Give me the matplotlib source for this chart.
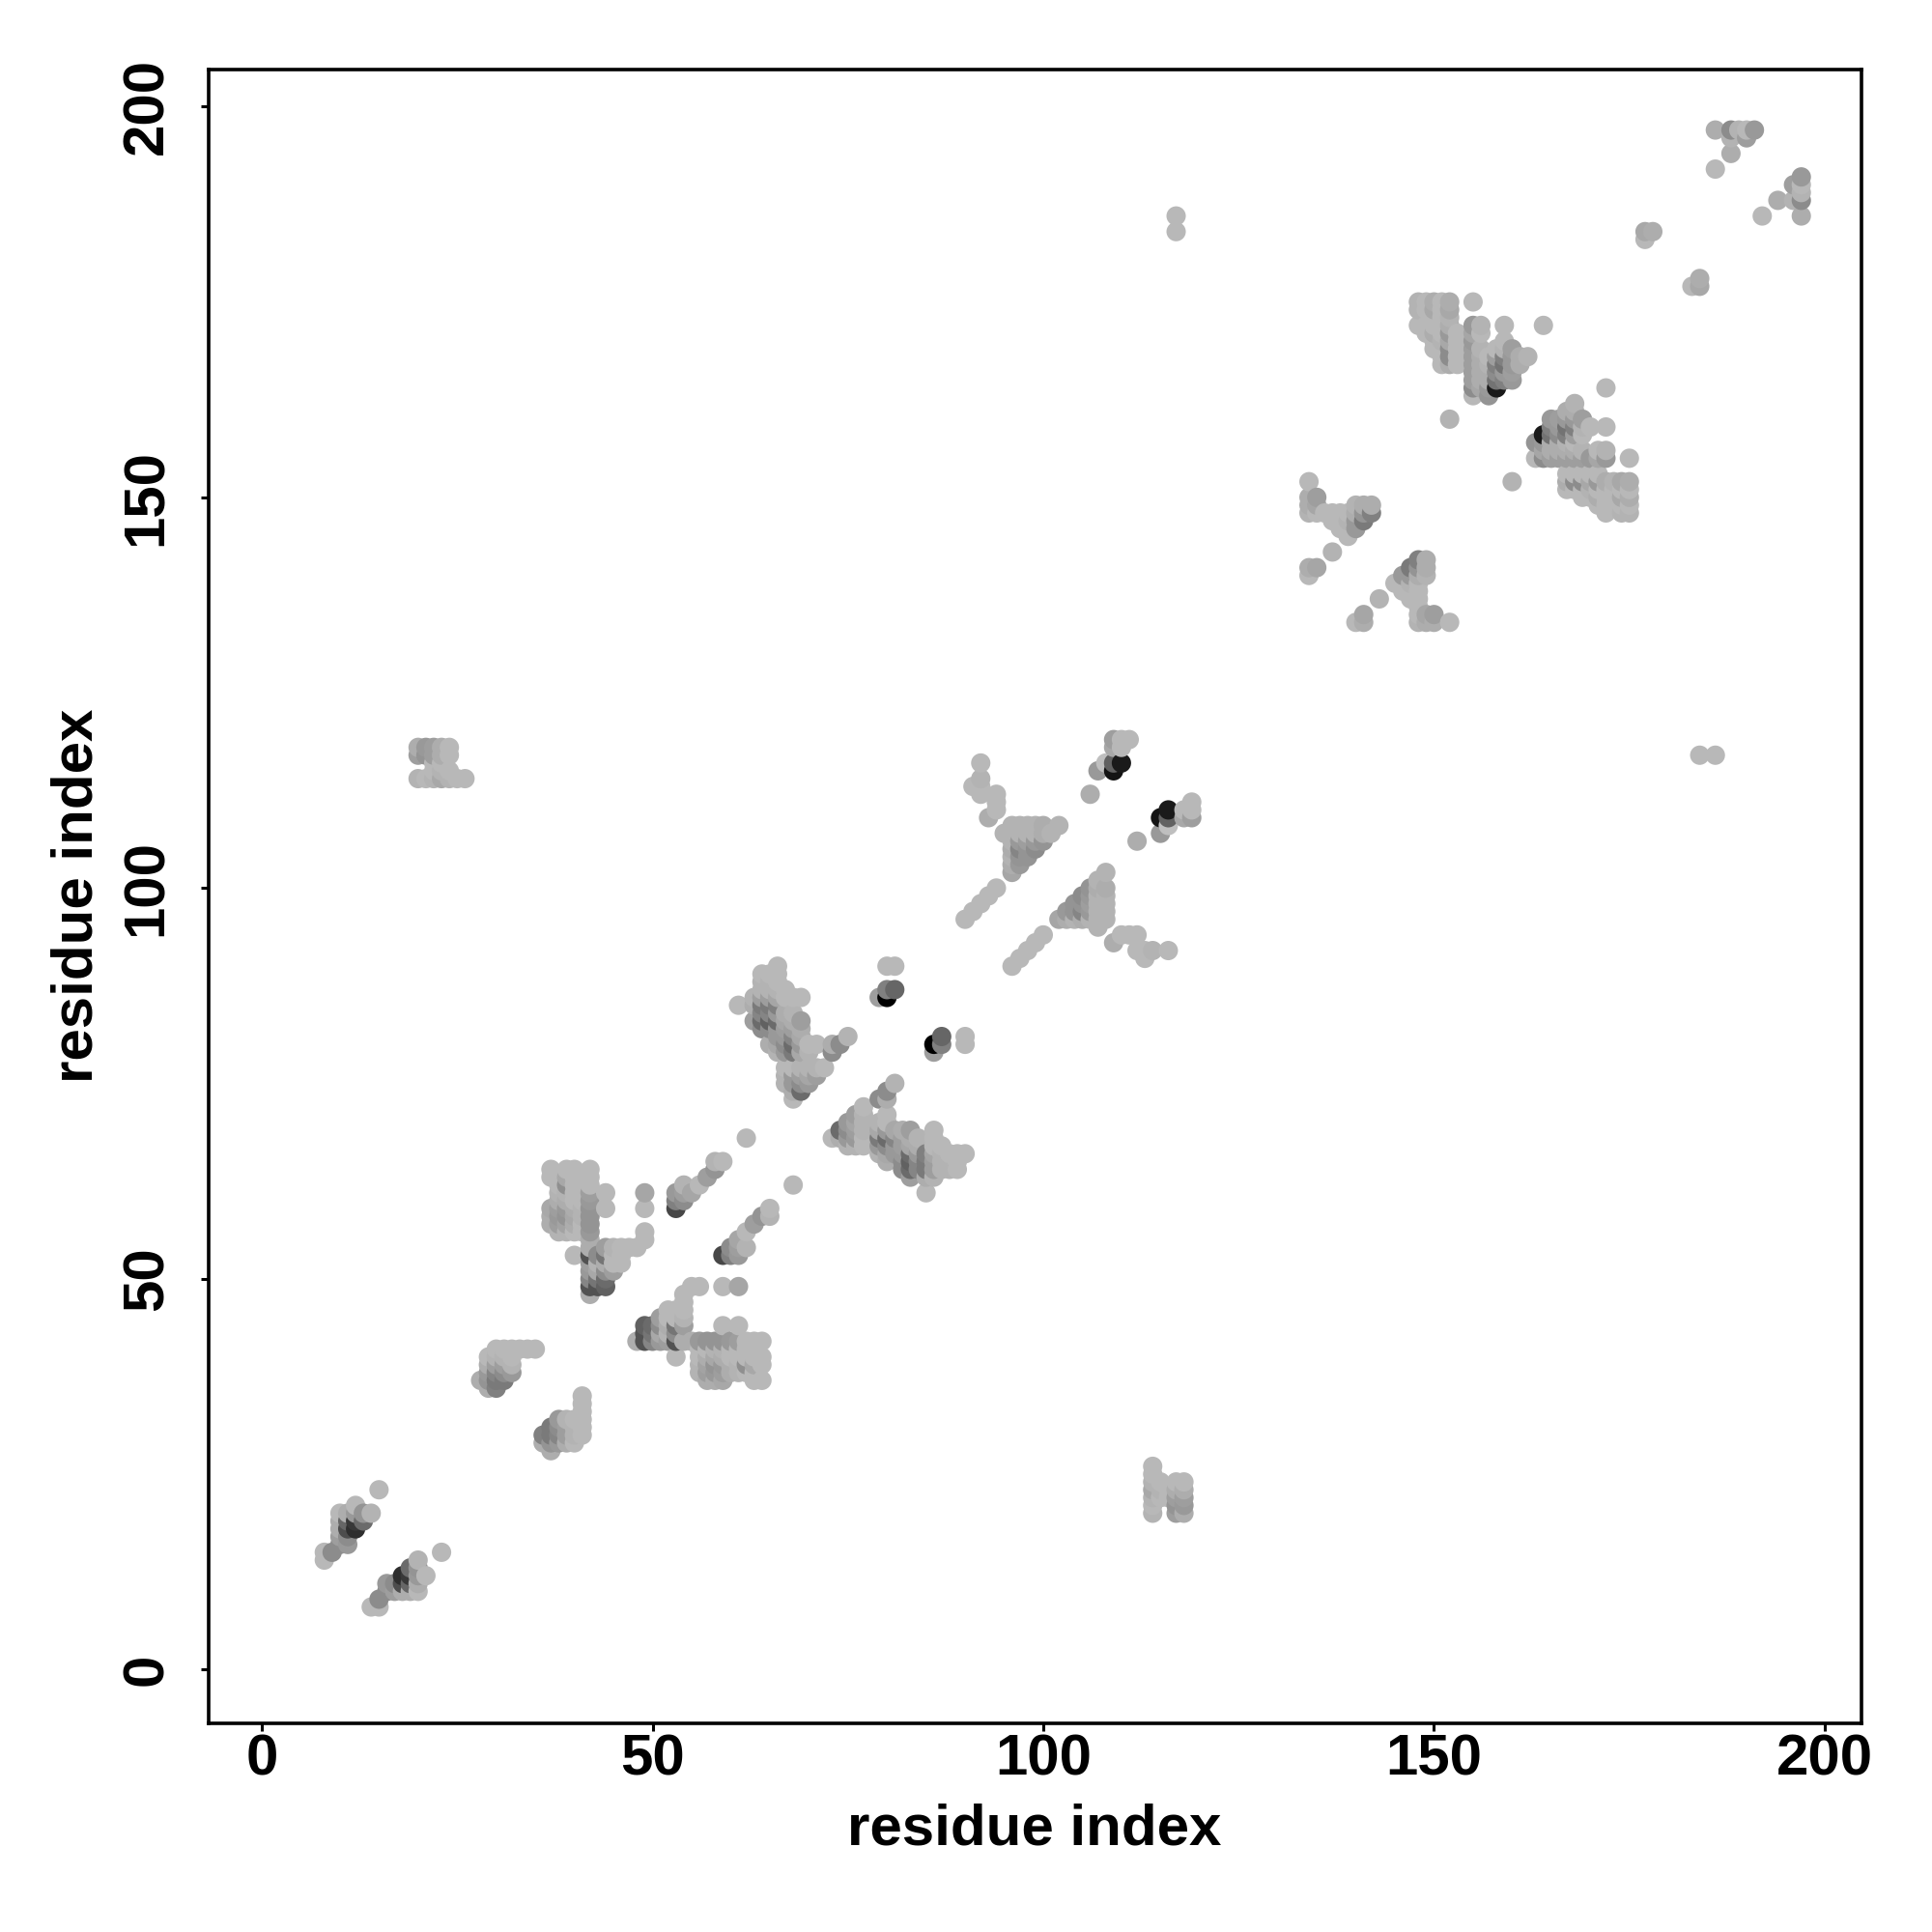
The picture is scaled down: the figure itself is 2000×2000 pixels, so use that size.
import numpy as np
import matplotlib
matplotlib.use("Agg")
import matplotlib.pyplot as plt

plt.rcParams['font.family'] = ['Liberation Sans', 'DejaVu Sans']

# contact rows: (residue i, partner residues j, grey level in percent)
# only i < j is listed, the map is symmetric
block_a = [
    (8, [14, 15], [72, 72]),
    (9, [15], [55]),
    (10, [16, 17, 18, 19, 20], [55, 62, 68, 68, 72]),
    (11, [16, 17, 18, 19, 20], [60, 55, 30, 40, 68]),
    (12, [18, 19, 20, 21], [18, 22, 60, 72]),
    (13, [19, 20], [42, 58]),
    (14, [20], [70]),
    (15, [23], [72]),
]
block_b = [
    (20, [114, 117, 118], [70, 62, 68]),
    (21, [114, 117, 118], [72, 58, 60]),
    (22, [114, 115, 116, 117, 118], [70, 72, 72, 62, 62]),
    (23, [114, 115, 116, 117, 118], [66, 70, 72, 68, 68]),
    (24, [114, 115, 117, 118], [70, 72, 72, 72]),
    (25, [114], [72]),
    (26, [114], [72]),
]
block_c = [
    (28, [37], [68]),
    (29, [36, 37, 38, 39, 40], [68, 58, 60, 68, 72]),
    (30, [36, 37, 38, 39, 40, 41], [50, 48, 52, 62, 70, 72]),
    (31, [37, 38, 39, 40, 41], [48, 55, 62, 70, 72]),
    (32, [38, 39, 40, 41], [60, 70, 72, 72]),
    (33, [41], [72]),
    (34, [41], [72]),
    (35, [41], [72]),
]
block_d = [
    (37, [57, 58, 59, 63, 64], [68, 68, 66, 72, 72]),
    (38, [56, 57, 58, 59, 60, 61, 62, 63], [70, 62, 60, 62, 68, 70, 72, 72]),
    (39, [56, 57, 58, 59, 60, 61, 62, 63, 64], [70, 64, 58, 60, 68, 70, 56, 66, 72]),
    (40, [53, 56, 57, 58, 59, 60, 61, 62, 63, 64], [72, 72, 68, 66, 68, 72, 72, 72, 72, 72]),
    (41, [56, 57, 58, 59, 60, 61, 62, 63], [72, 72, 70, 70, 72, 72, 72, 72]),
    (42, [48, 49, 50, 51, 52, 53, 54, 55, 56, 57, 58, 59, 60, 61, 62, 63, 64],
     [68, 32, 52, 60, 62, 32, 68, 68, 60, 58, 58, 58, 60, 62, 72, 72, 72]),
    (43, [49, 50, 51, 52, 53], [32, 46, 66, 70, 55]),
    (44, [49, 50, 51, 52, 53, 54, 59, 61], [38, 42, 55, 68, 46, 62, 72, 72]),
    (45, [51, 52, 53, 54], [62, 72, 72, 70]),
    (46, [52, 53, 54], [72, 72, 72]),
    (47, [54], [72]),
    (48, [54], [72]),
    (49, [55, 56, 59, 61], [72, 72, 72, 65]),
]
block_e = [
    (53, [59, 60, 61], [28, 50, 60]),
    (54, [60, 61, 62], [55, 62, 70]),
    (55, [61], [65]),
    (56, [62], [72]),
    (57, [63], [62]),
    (58, [64, 65], [58, 70]),
    (59, [65], [72]),
    (62, [68], [72]),
]
block_f = [
    (61, [85], [72]),
    (63, [83, 85, 86], [62, 68, 70]),
    (64, [82, 83, 84, 85, 86, 87, 88, 89], [55, 42, 52, 48, 62, 70, 70, 72]),
    (65, [80, 82, 83, 84, 85, 86, 87, 88, 89], [68, 55, 38, 52, 48, 62, 70, 70, 72]),
    (66, [79, 80, 81, 82, 83, 84, 85, 86, 87, 88, 89, 90],
     [70, 66, 60, 60, 42, 60, 50, 65, 70, 72, 72, 72]),
    (67, [75, 76, 77, 79, 80, 81, 82, 83, 84, 86, 87], [70, 70, 72, 60, 55, 60, 62, 65, 68, 72, 72]),
    (68, [73, 74, 75, 76, 77, 79, 80, 81, 82, 83, 84, 86],
     [72, 68, 60, 60, 72, 48, 42, 52, 62, 68, 70, 72]),
    (69, [74, 75, 76, 77, 79, 80, 81, 82, 83, 86], [42, 55, 62, 70, 66, 60, 66, 68, 62, 72]),
    (70, [75, 76, 77, 79, 80], [60, 65, 70, 70, 72]),
    (71, [76, 77, 80], [62, 70, 72]),
    (72, [77], [72]),
    (73, [79, 80], [55, 68]),
    (74, [80], [55]),
    (75, [81], [70]),
    (79, [86], [62]),
    (80, [86, 87, 90], [0, 50, 72]),
    (81, [87, 90], [40, 72]),
]
block_g = [
    (90, [96], [72]),
    (91, [97, 113], [72, 72]),
    (92, [98, 112, 113, 114, 116], [72, 72, 72, 70, 72]),
    (93, [99, 109], [72, 68]),
    (94, [100, 110, 111, 112], [72, 72, 72, 72]),
    (95, [107], [70]),
    (96, [102, 103, 104, 105, 106, 107, 108], [65, 68, 70, 68, 70, 70, 70]),
    (97, [103, 104, 105, 106, 107, 108], [60, 58, 52, 60, 70, 70]),
    (98, [104, 105, 106, 107, 108], [58, 58, 62, 70, 70]),
    (99, [105, 106, 107, 108], [55, 60, 70, 70]),
    (100, [106, 107, 108], [58, 68, 68]),
    (101, [107], [70]),
    (102, [108], [70]),
    (106, [112], [68]),
    (107, [115], [60]),
    (108, [116], [75]),
    (109, [115, 116, 118, 119], [8, 38, 66, 62]),
    (110, [116, 118, 119], [10, 72, 72]),
    (111, [119], [72]),
    (117, [184, 186], [72, 72]),
]
block_h = [
    (134, [140, 141, 148, 149, 150, 152], [72, 68, 70, 68, 68, 72]),
    (135, [141, 148, 149, 150], [65, 72, 65, 62]),
    (136, [148], [72]),
    (137, [143, 147, 148], [70, 72, 72]),
    (138, [146, 147, 148], [72, 72, 72]),
    (139, [145, 146, 147, 148], [72, 72, 70, 72]),
    (140, [146, 147, 148, 149], [60, 60, 68, 70]),
    (141, [147, 148, 149], [48, 58, 68]),
    (142, [148, 149], [50, 68]),
]
block_i = [
    (148, [172, 174, 175], [72, 70, 70]),
    (149, [171, 172, 174, 175], [72, 72, 72, 72]),
    (150, [169, 170, 171, 172, 173, 174, 175], [72, 72, 68, 72, 72, 66, 68]),
    (151, [167, 168, 169, 170, 171, 172, 173, 174, 175], [72, 72, 72, 70, 72, 72, 72, 72, 72]),
    (152, [160, 167, 168, 169, 170, 171, 172, 173, 174, 175],
     [70, 68, 55, 55, 66, 60, 68, 70, 66, 68]),
    (153, [167, 168, 169, 170, 171], [72, 72, 72, 72, 72]),
    (155, [163, 164, 165, 166, 167, 168, 169, 170, 171, 172, 175],
     [72, 55, 62, 62, 62, 62, 62, 60, 65, 60, 72]),
    (156, [164, 165, 166, 167, 168, 169, 171, 172], [65, 68, 68, 68, 68, 70, 72, 70]),
    (157, [163, 164, 165, 166, 167, 168], [58, 60, 68, 68, 70, 72]),
    (158, [164, 165, 166, 167, 168, 169], [10, 45, 55, 50, 62, 72]),
    (159, [165, 166, 167, 168, 169, 170, 172], [50, 60, 45, 50, 70, 72, 72]),
    (160, [165, 166, 167, 168, 169], [60, 62, 60, 60, 62]),
    (161, [167, 168], [68, 68]),
    (162, [168], [70]),
    (164, [172], [72]),
]
block_j = [
    (177, [183, 184], [72, 66]),
    (178, [184], [68]),
    (186, [192, 197], [72, 68]),
    (188, [194, 196, 197], [68, 70, 55]),
    (189, [197], [70]),
    (190, [196, 197], [62, 72]),
    (191, [197], [60]),
]
blocks = [block_a, block_b, block_c, block_d, block_e, block_f, block_g, block_h, block_i, block_j]

ticks = [0, 50, 100, 150, 200]

res_i = []
res_j = []
grey = []
for block in blocks:
    for i, partners, levels in block:
        for j, g in zip(partners, levels):
            res_i.append(i)
            res_j.append(j)
            grey.append(g / 100)

# both halves of the map, drawn in order of x then y like the original
x = np.array(res_i + res_j)
y = np.array(res_j + res_i)
g = np.array(grey + grey)
order = np.lexsort((y, x))
colors = [str(v) for v in g[order]]

fig = plt.figure(figsize=(10, 10), dpi=200)
ax = fig.add_axes([216 / 2000, 1 - 1784 / 2000, (1927 - 216) / 2000, (1784 - 71.5) / 2000])

ax.scatter(x[order], y[order], s=52, c=colors, linewidths=0)

ax.set_xlim(-6.8, 204.7)
ax.set_ylim(-6.89, 204.8)
ax.set_xticks(ticks)
ax.set_yticks(ticks)
ax.tick_params(axis='x', length=2.9, width=1.1, pad=1, labelsize=21.6)
ax.tick_params(axis='y', length=2.9, width=1.1, pad=10, labelsize=21.6)
for lab in ax.get_xticklabels():
    lab.set_fontweight('bold')
for lab in ax.get_yticklabels():
    lab.set_fontweight('bold')
    lab.set_rotation(90)
    lab.set_va('center')
for spine in ax.spines.values():
    spine.set_linewidth(1.3)

fig.text(1071 / 2000, 1 - 1909 / 2000, 'residue index', ha='center', va='baseline',
         fontsize=21.6, fontweight='bold')
fig.text(80 / 2000, 1 - 927 / 2000, 'residue index', ha='center', va='center', rotation=90,
         fontsize=21.6, fontweight='bold')

fig.savefig('out.png', dpi=200)
